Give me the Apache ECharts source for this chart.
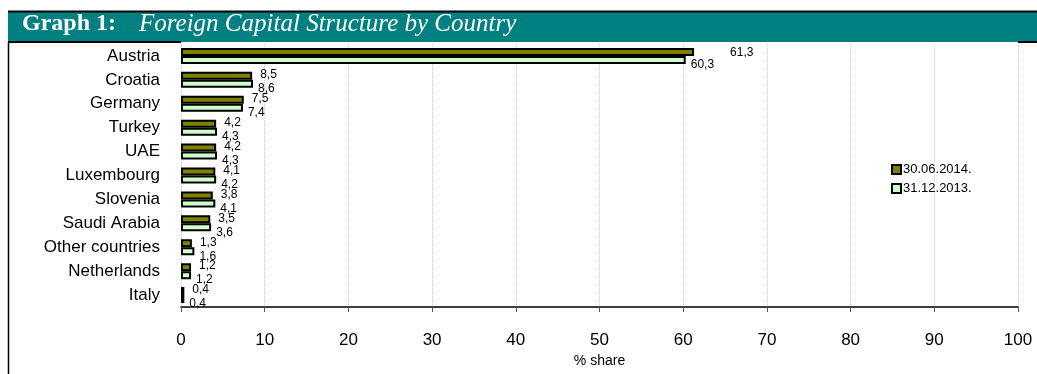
<!DOCTYPE html>
<html>
<head>
<meta charset="utf-8">
<script src="https://cdn.jsdelivr.net/npm/echarts@6/dist/echarts.min.js"></script>
<style>
  html, body { margin: 0; padding: 0; background: #fff; }
  #chart { width: 1037px; height: 374px; }
</style>
</head>
<body>
<div id="chart"></div>
<script>
var countries = ['Austria', 'Croatia', 'Germany', 'Turkey', 'UAE', 'Luxembourg', 'Slovenia',
    'Saudi Arabia', 'Other countries', 'Netherlands', 'Italy'];
var jun2014 = [61.3, 8.5, 7.5, 4.2, 4.2, 4.1, 3.8, 3.5, 1.3, 1.2, 0.4];
var dec2013 = [60.3, 8.6, 7.4, 4.3, 4.3, 4.2, 4.1, 3.6, 1.6, 1.2, 0.4];
var seriesNames = ['30.06.2014.', '31.12.2013.'];

function commaLabel(p) {
    return p.value.toFixed(1).replace('.', ',');
}

// the Austria label of the 2014 series sits further right in the original
var jun2014Items = jun2014.map(function (v, i) {
    return i === 0 ? { value: v, label: { offset: [28, 1] } } : v;
});

var option = {
    animation: false,
    textStyle: { fontFamily: 'Liberation Sans, Arial, sans-serif' },
    grid: { left: 181, right: 19, top: 44, bottom: 67 },
    legend: {
        orient: 'vertical',
        left: 886,
        top: 158,
        itemWidth: 9,
        itemHeight: 9,
        itemGap: 6,
        icon: 'rect',
        textStyle: { fontSize: 13, color: '#000', padding: [0, 0, 0, -3] },
        data: seriesNames
    },
    xAxis: {
        type: 'value',
        min: 0,
        max: 100,
        interval: 10,
        name: '% share',
        nameLocation: 'middle',
        nameGap: 40,
        nameTextStyle: { fontSize: 14, color: '#000' },
        axisLine: { show: true, lineStyle: { color: '#000', width: 1.5 } },
        axisTick: { show: true, length: 5, lineStyle: { color: '#555' } },
        axisLabel: { fontSize: 17, color: '#000', margin: 25 },
        splitLine: { show: true, lineStyle: { color: '#d0d0d0', type: 'dotted' } }
    },
    yAxis: {
        type: 'category',
        inverse: true,
        data: countries,
        axisLine: { show: false },
        axisTick: { show: false },
        axisLabel: { fontSize: 17, color: '#000', margin: 21 }
    },
    series: [{
        name: seriesNames[0],
        type: 'bar',
        data: jun2014Items,
        barWidth: 8,
        barGap: '0%',
        itemStyle: { color: '#808000', borderColor: '#000', borderWidth: 2 },
        label: {
            show: true, position: 'right', distance: 8, offset: [0, -1],
            fontSize: 12, color: '#000', formatter: commaLabel
        }
    }, {
        name: seriesNames[1],
        type: 'bar',
        data: dec2013,
        barWidth: 8,
        barGap: '0%',
        itemStyle: { color: '#ccffcc', borderColor: '#000', borderWidth: 2 },
        label: {
            show: true, position: 'right', distance: 5, offset: [0, 5],
            fontSize: 12, color: '#000', formatter: commaLabel
        }
    }],
    graphic: [
        { type: 'rect', shape: { x: 8, y: 11, width: 1029, height: 31 },
          style: { fill: '#008080' }, z: 100 },
        { type: 'line', shape: { x1: 8, y1: 11.5, x2: 1037, y2: 11.5 },
          style: { stroke: '#000', lineWidth: 2 }, z: 101 },
        { type: 'line', shape: { x1: 8, y1: 42, x2: 181, y2: 42 },
          style: { stroke: '#000', lineWidth: 2 }, z: 101 },
        { type: 'line', shape: { x1: 1018, y1: 42, x2: 1037, y2: 42 },
          style: { stroke: '#000', lineWidth: 2 }, z: 101 },
        { type: 'line', shape: { x1: 8.5, y1: 42, x2: 8.5, y2: 374 },
          style: { stroke: '#000', lineWidth: 1.5 }, z: 101 },
        { type: 'text', x: 22, y: 12, z: 102,
          style: { text: 'Graph 1:', fill: '#fff',
                   font: 'bold 24px "Liberation Serif", "Times New Roman", serif' } },
        { type: 'text', x: 139, y: 12, z: 102,
          style: { text: 'Foreign Capital Structure by Country', fill: '#fff',
                   font: 'italic 25px "Liberation Serif", "Times New Roman", serif' } }
    ]
};

var myChart = echarts.init(document.getElementById('chart'));
myChart.setOption(option);
</script>
</body>
</html>
